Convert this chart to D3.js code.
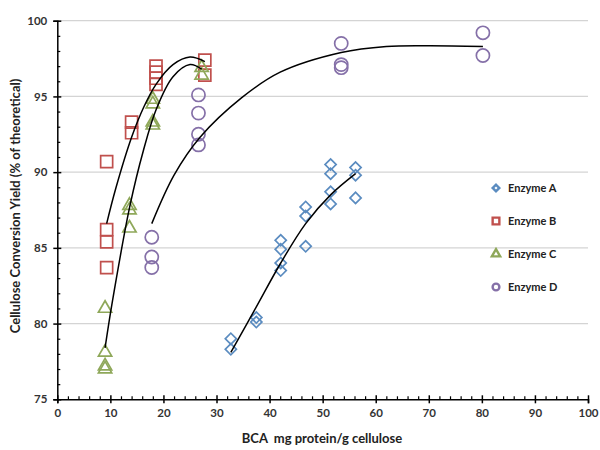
<!DOCTYPE html>
<html><head><meta charset="utf-8">
<script src="https://cdn.jsdelivr.net/npm/d3@7"></script>
<style>body{margin:0;background:#fff}svg{display:block}text{font-family:Lato,"Open Sans",sans-serif}</style>
</head><body><svg id="c" width="600" height="450"></svg>
<script>
// Data (x = BCA mg protein/g cellulose, y = conversion yield %)
const enzymeA = [[32.7,79.0],[32.7,78.3],[37.5,80.4],[37.5,80.1],[42.1,85.5],[42.1,84.9],[42.1,84.0],[42.1,83.5],[46.8,87.7],[46.8,87.1],[46.8,85.1],[51.5,90.5],[51.5,89.9],[51.5,88.7],[51.5,87.9],[56.2,90.3],[56.2,89.8],[56.2,88.3]];
const enzymeB = [[9.3,90.7],[9.3,86.2],[9.3,85.4],[9.3,83.7],[14.0,93.3],[14.0,92.6],[18.6,97.0],[18.6,96.6],[18.6,96.2],[18.6,95.8],[27.8,97.4],[27.8,96.4]];
const enzymeC = [[9.0,81.0],[9.0,78.1],[9.0,77.2],[9.0,77.0],[13.6,87.8],[13.6,87.5],[13.6,86.3],[18.0,94.8],[18.0,94.5],[18.0,93.3],[18.0,93.1],[27.2,96.9],[27.2,96.4]];
const enzymeD = [[17.8,85.7],[17.8,84.4],[17.8,83.7],[26.6,95.1],[26.6,93.9],[26.6,92.5],[26.6,91.8],[53.5,98.5],[53.5,97.1],[53.5,96.9],[80.2,99.2],[80.2,97.7]];
// Trend lines
const trendA = [[32.7,78.1],[37.5,81.1],[42.1,84.0],[46.8,86.6],[51.5,88.5],[56.2,89.9]];
const trendB = [[9.3,86.6],[11.0,88.9],[14.0,92.3],[16.3,94.3],[18.6,95.8],[21.8,97.1],[25.0,97.6],[27.8,97.3]];
const trendC = [[9.0,78.4],[10.4,81.5],[13.7,87.8],[16.2,91.4],[18.7,94.2],[21.8,96.3],[25.0,97.1],[27.2,96.8]];
const trendD = [[17.8,86.6],[22.0,89.8],[26.9,92.3],[34.7,94.9],[42.0,96.6],[53.5,97.9],[62.0,98.3],[70.0,98.35],[80.2,98.3]];
const seriesNames = ["Enzyme A","Enzyme B","Enzyme C","Enzyme D"];
const xTicks = [0,10,20,30,40,50,60,70,80,90,100];
const yTicks = [75,80,85,90,95,100];
const xTitle = "BCA  mg protein/g cellulose";
const yTitle = "Cellulose Conversion Yield (% of theoretical)";

const svg = d3.select("#c");
const L=57.3, R=588, T=20.7, B=399.3;
const x = d3.scaleLinear().domain([0,100]).range([L,R]);
const y = d3.scaleLinear().domain([75,100]).range([B,T]);

// gridlines
svg.append("g").selectAll("line").data(yTicks.filter(d=>d>75)).join("line")
  .attr("x1",L).attr("x2",R).attr("y1",d=>y(d)).attr("y2",d=>y(d))
  .attr("stroke","#d4d4d4").attr("stroke-width",1.2);

// axes
const tickFont = g=>g.selectAll("text").attr("font-size",11.5).attr("font-weight","bold").attr("fill","#333");
const xAx = svg.append("g").attr("transform",`translate(0,${B})`)
  .call(d3.axisBottom(x).tickValues(xTicks).tickSize(4).tickPadding(6).tickFormat(d3.format("d")));
xAx.select(".domain").attr("stroke","#000").attr("stroke-width",1.5);
xAx.selectAll(".tick line").attr("y1",-4).attr("y2",4).attr("stroke-width",1.5);
xAx.call(tickFont);
const xMin = svg.append("g").attr("transform",`translate(0,${B})`)
  .call(d3.axisBottom(x).tickValues(d3.range(0,101,2).filter(d=>d%10)).tickSize(-3).tickFormat(""));
xMin.select(".domain").remove(); xMin.selectAll("line").attr("stroke-width",1.2);

const yAx = svg.append("g").attr("transform",`translate(${L},0)`)
  .call(d3.axisLeft(y).tickValues(yTicks).tickSize(4).tickPadding(6));
yAx.select(".domain").attr("stroke","#000").attr("stroke-width",1.5);
yAx.selectAll(".tick line").attr("x1",-4).attr("x2",4).attr("stroke-width",1.5);
yAx.call(tickFont);
const yMin = svg.append("g").attr("transform",`translate(${L},0)`)
  .call(d3.axisLeft(y).tickValues(d3.range(75,101,1).filter(d=>d%5)).tickSize(-3).tickFormat(""));
yMin.select(".domain").remove(); yMin.selectAll("line").attr("stroke-width",1.2);

// titles
svg.append("text").attr("x",322).attr("y",443).attr("text-anchor","middle").style("white-space","pre")
  .attr("font-size",13).attr("font-weight","bold").attr("fill","#222").text(xTitle);
svg.append("text").attr("transform","translate(20,206) rotate(-90)").attr("text-anchor","middle")
  .attr("font-size",13).attr("font-weight","bold").attr("fill","#222").text(yTitle);

// symbols
const colors = ["#5b8cc0","#c0504d","#8fa85a","#8570a8"];
const sym = [
  {type:d3.symbolSquare, size:62, rot:45},
  {type:d3.symbolSquare, size:144, rot:0},
  {type:d3.symbolTriangle, size:76, rot:0},
  {type:d3.symbolCircle, size:136, rot:0}
];
const legSym = [
  {type:d3.symbolSquare, size:22, rot:45},
  {type:d3.symbolSquare, size:45, rot:0},
  {type:d3.symbolTriangle, size:30, rot:0},
  {type:d3.symbolCircle, size:36, rot:0}
];
const allData = [enzymeA,enzymeB,enzymeC,enzymeD];
const trends = [trendA,trendB,trendC,trendD];

allData.forEach((ds,i)=>{
  svg.append("g").selectAll("path").data(ds).join("path")
    .attr("d",d3.symbol().type(sym[i].type).size(sym[i].size))
    .attr("transform",d=>`translate(${x(d[0])},${y(d[1])}) rotate(${sym[i].rot})`)
    .attr("fill","none").attr("stroke",colors[i]).attr("stroke-width",1.7);
});

const line = d3.line().x(d=>x(d[0])).y(d=>y(d[1])).curve(d3.curveCatmullRom.alpha(0.5));
trends.forEach(t=>{
  svg.append("path").attr("d",line(t)).attr("fill","none").attr("stroke","#000").attr("stroke-width",1.5);
});

// legend
const legY = [188,221,254,287];
seriesNames.forEach((n,i)=>{
  svg.append("path").attr("d",d3.symbol().type(legSym[i].type).size(legSym[i].size))
    .attr("transform",`translate(496,${legY[i]}) rotate(${legSym[i].rot})`)
    .attr("fill","none").attr("stroke",colors[i]).attr("stroke-width",2.4);
  svg.append("text").attr("x",508).attr("y",legY[i]+4).attr("font-size",11).attr("font-weight","bold")
    .attr("fill","#222").text(n);
});
</script></body></html>
